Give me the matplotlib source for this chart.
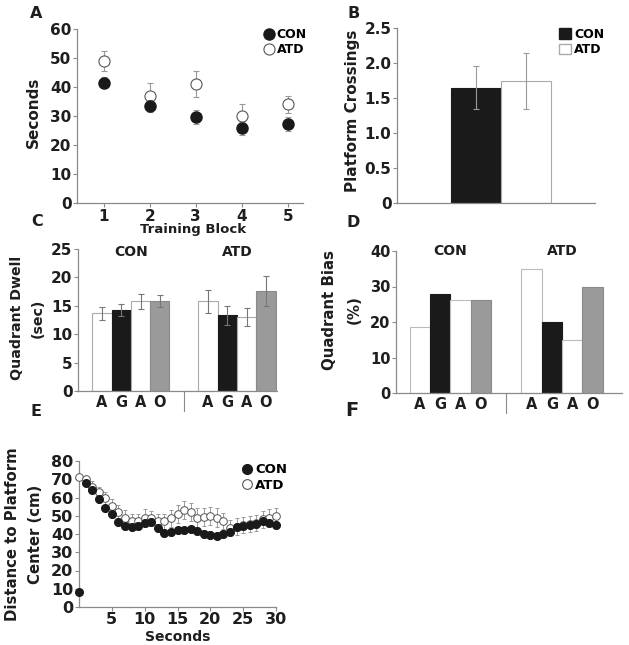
import matplotlib
matplotlib.use('Agg')
import matplotlib.pyplot as plt
import matplotlib.transforms as mtransforms
from matplotlib.lines import Line2D
from matplotlib.patches import Patch

plt.rcParams['font.family'] = ['DejaVu Sans']
plt.rcParams['font.weight'] = 'bold'
plt.rcParams['axes.labelweight'] = 'bold'

# ---------------- data ----------------
blocks = [1, 2, 3, 4, 5]
a_con = [41.5, 33.4, 29.5, 25.8, 27.2]
a_con_err = [2.0, 2.0, 2.4, 2.2, 2.4]
a_atd = [49.0, 37.0, 41.0, 30.0, 34.0]
a_atd_err = [3.5, 4.5, 4.5, 4.0, 3.0]

groups = ['CON', 'ATD']
b_means = [1.65, 1.74]
b_errs = [0.31, 0.40]

quadrants = ['A', 'G', 'A', 'O']
c_con = [13.7, 14.3, 15.8, 15.9]
c_con_err = [1.15, 1.05, 1.3, 1.05]
c_atd = [15.8, 13.3, 13.1, 17.6]
c_atd_err = [2.05, 1.75, 1.6, 2.6]

d_con = [18.6, 28.0, 26.3, 26.3]
d_atd = [34.8, 19.9, 14.9, 29.9]

seconds = list(range(0, 31))
e_con = [8, 68, 64, 59, 54, 51, 46.5, 44.5, 44, 44.5, 46, 46.5, 43.5, 40.5, 41,
         42, 42, 42.5, 41.5, 40, 39.5, 39, 40, 41, 44, 44.5, 45, 45.5, 47, 46, 45]
e_con_err = [1.0, 1.5, 1.8, 2.0, 2.0, 2.0, 2.2, 2.2, 2.2, 2.2, 2.2, 2.2, 2.2, 2.0, 2.0,
             2.0, 2.0, 2.0, 2.0, 2.0, 2.0, 2.0, 2.0, 2.2, 2.2, 2.2, 2.2, 2.2, 2.2, 2.2, 2.2]
e_atd = [71, 70, 66, 63, 59.5, 55.5, 52, 49, 47, 47, 49, 48.5, 47, 47, 48.5,
         51, 53, 52, 49, 49.5, 50, 49, 47, 43.5, 44, 45, 45.5, 46, 48, 49, 50]
e_atd_err = [1.0, 2.0, 3.0, 3.0, 3.5, 3.5, 4.0, 4.0, 4.0, 4.0, 4.5, 4.0, 4.0, 4.0, 4.5,
             5.0, 5.0, 5.0, 5.0, 5.0, 5.0, 5.0, 4.5, 4.0, 4.5, 4.5, 4.5, 4.5, 4.5, 4.5, 4.5]

# ---------------- styling ----------------
BLACK = '#1a1a1a'
GRAY = '#9a9a9a'
AXC = '#8a8a8a'
ERRC = '#9a9a9a'
TXT = '#1e1e1e'
bar_colors = ['white', BLACK, 'white', GRAY]

W, H = 629, 645
fig = plt.figure(figsize=(W / 100, H / 100), dpi=100)


def ax_px(l, t, r, b):
    return fig.add_axes([l / W, 1 - b / H, (r - l) / W, (b - t) / H])


def style(ax, fs=11):
    for s in ['top', 'right']:
        ax.spines[s].set_visible(False)
    for s in ['left', 'bottom']:
        ax.spines[s].set_color(AXC)
        ax.spines[s].set_linewidth(0.9)
    ax.tick_params(colors=AXC, labelcolor=TXT, labelsize=fs, length=3, width=0.8, pad=1)
    for lab in ax.get_xticklabels() + ax.get_yticklabels():
        lab.set_fontweight('bold')


def ftext(x, y, s, **kw):
    fig.text(x / W, 1 - y / H, s, ha='center', va='center', color=TXT,
             fontweight='bold', **kw)


# ---------------- Panel A ----------------
axA = ax_px(77, 29, 303, 203)
axA.errorbar(blocks, a_atd, yerr=a_atd_err, fmt='o', mfc='white', mec='#555555', mew=0.8,
             ms=8, ecolor=ERRC, elinewidth=0.8, capsize=2, capthick=0.8, zorder=3)
axA.errorbar(blocks, a_con, yerr=a_con_err, fmt='o', mfc=BLACK, mec=BLACK,
             ms=8, ecolor=ERRC, elinewidth=0.8, capsize=2, capthick=0.8, zorder=4)
axA.set_xlim(0.42, 5.33)
axA.set_ylim(0, 60)
axA.set_xticks(blocks)
axA.set_yticks([0, 10, 20, 30, 40, 50, 60])
style(axA, fs=11)
hA = [Line2D([], [], marker='o', ls='', mfc=BLACK, mec=BLACK, ms=8),
      Line2D([], [], marker='o', ls='', mfc='white', mec='#555555', mew=0.8, ms=8)]
axA.legend(hA, groups, loc='upper left', bbox_to_anchor=(0.8, 1.035), frameon=False,
           handletextpad=0.1, labelspacing=0.2, borderaxespad=0, handlelength=1.0,
           prop={'weight': 'bold', 'size': 9})

# ---------------- Panel B ----------------
axB = ax_px(397, 28, 595, 203)
axB.bar([0, 1], b_means, width=1.0, color=[BLACK, 'white'], edgecolor=['#1a1a1a', '#aaaaaa'],
        linewidth=0.8, zorder=2)
axB.errorbar([0, 1], b_means, yerr=b_errs, fmt='none', ecolor=ERRC, elinewidth=0.8,
             capsize=2, capthick=0.8, zorder=3)
axB.set_xlim(-1.58, 2.38)
axB.set_ylim(0, 2.5)
axB.set_xticks([])
axB.set_yticks([0, 0.5, 1.0, 1.5, 2.0, 2.5])
axB.set_yticklabels(['0', '0.5', '1.0', '1.5', '2.0', '2.5'])
style(axB, fs=11)
hB = [Patch(facecolor=BLACK, edgecolor=BLACK), Patch(facecolor='white', edgecolor='#aaaaaa')]
axB.legend(hB, groups, loc='upper left', bbox_to_anchor=(0.795, 1.03), frameon=False,
           handletextpad=0.3, labelspacing=0.2, borderaxespad=0, handlelength=0.9,
           handleheight=0.9, prop={'weight': 'bold', 'size': 9})

# ---------------- Panel C ----------------
con_x = [0, 1, 2, 3]
atd_x = [5.5, 6.5, 7.5, 8.5]
axC = ax_px(78, 249, 277, 391)
axC.bar(con_x, c_con, width=1.0, color=bar_colors, edgecolor=['#aaaaaa', BLACK, '#aaaaaa', '#8a8a8a'],
        linewidth=0.8, zorder=2)
axC.bar(atd_x, c_atd, width=1.0, color=bar_colors, edgecolor=['#aaaaaa', BLACK, '#aaaaaa', '#8a8a8a'],
        linewidth=0.8, zorder=2)
axC.errorbar(con_x + atd_x, c_con + c_atd, yerr=c_con_err + c_atd_err, fmt='none', ecolor='#777777',
             elinewidth=0.8, capsize=2, capthick=0.8, zorder=3)
axC.set_xlim(-1.24, 9.07)
axC.set_ylim(0, 25)
axC.set_xticks(con_x + atd_x)
axC.set_xticklabels(quadrants + quadrants)
axC.set_yticks([0, 5, 10, 15, 20, 25])
style(axC, fs=11)
axC.tick_params(axis='x', length=0, labelsize=10.5, pad=3)
trC = mtransforms.blended_transform_factory(axC.transData, axC.transAxes)
axC.plot([4.25, 4.25], [0, -0.14], transform=trC, color=AXC, lw=0.8, clip_on=False)
axC.text(1.5, 24.5, 'CON', ha='center', va='center', fontsize=10, fontweight='bold', color=TXT)
axC.text(7.0, 24.5, 'ATD', ha='center', va='center', fontsize=10, fontweight='bold', color=TXT)

# ---------------- Panel D ----------------
axD = ax_px(396, 251, 622, 393)
axD.bar(con_x, d_con, width=1.0, color=bar_colors, edgecolor=['#bbbbbb', BLACK, '#bbbbbb', '#8a8a8a'],
        linewidth=0.8, zorder=2)
axD.bar(atd_x, d_atd, width=1.0, color=bar_colors, edgecolor=['#bbbbbb', BLACK, '#bbbbbb', '#8a8a8a'],
        linewidth=0.8, zorder=2)
axD.set_xlim(-1.18, 9.95)
axD.set_ylim(0, 40)
axD.set_xticks(con_x + atd_x)
axD.set_xticklabels(quadrants + quadrants)
axD.set_yticks([0, 10, 20, 30, 40])
style(axD, fs=10.5)
axD.tick_params(axis='x', length=0, labelsize=10.5, pad=3)
trD = mtransforms.blended_transform_factory(axD.transData, axD.transAxes)
axD.plot([4.25, 4.25], [0, -0.14], transform=trD, color=AXC, lw=0.8, clip_on=False)
axD.text(1.5, 40, 'CON', ha='center', va='center', fontsize=10, fontweight='bold', color=TXT)
axD.text(7.0, 40, 'ATD', ha='center', va='center', fontsize=10, fontweight='bold', color=TXT)

# ---------------- Panel E ----------------
axE = ax_px(79, 461, 276, 607)
axE.errorbar(seconds, e_atd, yerr=e_atd_err, fmt='o', mfc='white', mec='#555555', mew=0.7,
             ms=5.5, ecolor=ERRC, elinewidth=0.7, capsize=1.5, capthick=0.7, zorder=3, clip_on=False)
axE.errorbar(seconds, e_con, yerr=e_con_err, fmt='o', mfc=BLACK, mec=BLACK,
             ms=5.5, ecolor=ERRC, elinewidth=0.7, capsize=1.5, capthick=0.7, zorder=4, clip_on=False)
axE.set_xlim(0, 30)
axE.set_ylim(0, 80)
axE.set_xticks([5, 10, 15, 20, 25, 30])
axE.set_yticks([0, 10, 20, 30, 40, 50, 60, 70, 80])
style(axE, fs=11.5)
axE.tick_params(axis='x', pad=0.5)
hE = [Line2D([], [], marker='o', ls='', mfc=BLACK, mec=BLACK, ms=7),
      Line2D([], [], marker='o', ls='', mfc='white', mec='#555555', mew=0.8, ms=7)]
axE.legend(hE, groups, loc='upper left', bbox_to_anchor=(0.79, 1.02), frameon=False,
           handletextpad=0.15, labelspacing=0.2, borderaxespad=0, handlelength=1.0,
           prop={'weight': 'bold', 'size': 9.5})

# ---------------- axis labels ----------------
ftext(33.5, 112, 'Seconds', rotation=90, fontsize=11)
ftext(193, 230, 'Training Block', fontsize=9.5)
ftext(353, 111, 'Platform Crossings', rotation=90, fontsize=11)
ftext(17, 318, 'Quadrant Dwell', rotation=90, fontsize=10.2)
ftext(38, 318, '(sec)', rotation=90, fontsize=10.2)
ftext(330, 310, 'Quadrant Bias', rotation=90, fontsize=10.8)
ftext(354, 310, '(%)', rotation=90, fontsize=10.8)
ftext(12.5, 534, 'Distance to Platform', rotation=90, fontsize=10.7)
ftext(36, 534, 'Center (cm)', rotation=90, fontsize=10.7)
ftext(178, 637, 'Seconds', fontsize=10)

# ---------------- panel letters ----------------
ftext(36.5, 14, 'A', fontsize=11.5)
ftext(354, 13, 'B', fontsize=11.5)
ftext(37, 221, 'C', fontsize=11.5)
ftext(353, 222.5, 'D', fontsize=11.5)
ftext(36, 412, 'E', fontsize=11.5)
ftext(352, 410, 'F', fontsize=14)

fig.savefig('out.png', dpi=100)
